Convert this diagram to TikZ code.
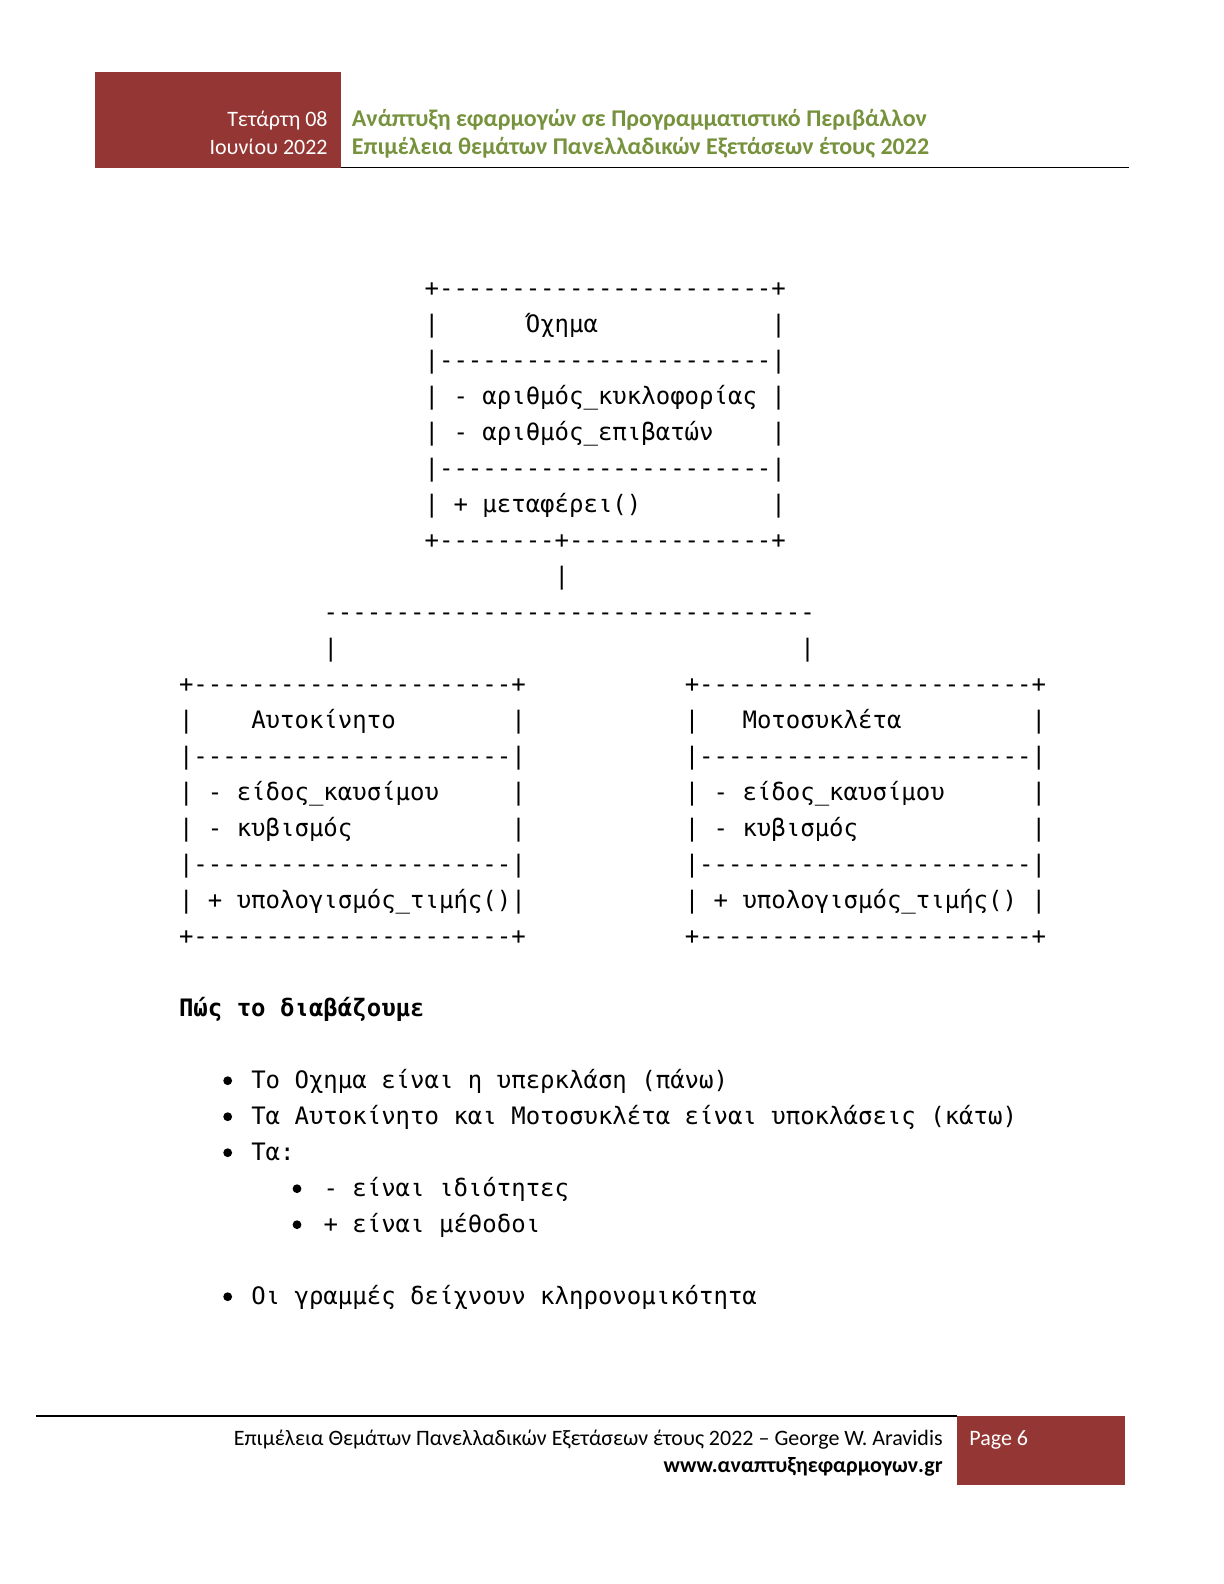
\documentclass[tikz,border=0pt]{standalone}
\usepackage{fontspec}
\newfontfamily\monofnt[Ligatures=TeXOff]{DejaVu Sans Mono}
\newfontfamily\carl{Carlito}
\definecolor{hdrred}{HTML}{943634}
\definecolor{hdrgreen}{HTML}{76923C}
\tikzset{
  asc/.style={anchor=base west, inner sep=0pt, font=\monofnt\fontsize{12bp}{14bp}\selectfont},
  ascb/.style={asc, font=\monofnt\bfseries\fontsize{12bp}{14bp}\selectfont},
  bul/.style={circle, fill=black, inner sep=0pt, minimum size=4.4bp},
  hdrw/.style={anchor=base east, inner sep=0pt, text=white, font=\carl\fontsize{11bp}{13bp}\selectfont},
  hdrg/.style={anchor=base west, inner sep=0pt, text=hdrgreen, font=\carl\bfseries\fontsize{12bp}{14bp}\selectfont},
  foot/.style={anchor=base east, inner sep=0pt, font=\carl\fontsize{11bp}{13bp}\selectfont},
  rule/.style={line width=0.75bp}
}
\newcommand\asc[4]{\node[asc] (#1) at ({178.6+14.45*#2},{296+36*#3}) {#4};}
\begin{document}
\begin{tikzpicture}[x=0.5bp,y=-0.5bp]
\useasboundingbox (0,0) rectangle (1224,1584);
% header
\fill[hdrred] (95.3,72) rectangle (340.7,167.7);
\draw[rule] (340.7,167.5) -- (1129,167.5);
\node[hdrw] (date1) at (328,126.7) {Τετάρτη 08};
\node[hdrw] (date2) at (328,154) {Ιουνίου 2022};
\node[hdrg] (title1) at (351.5,126) {Ανάπτυξη εφαρμογών σε Προγραμματιστικό Περιβάλλον};
\node[hdrg] (title2) at (351.5,154) {Επιμέλεια θεμάτων Πανελλαδικών Εξετάσεων έτους 2022};
% footer
\draw[rule] (36,1416) -- (956.7,1416);
\fill[hdrred] (956.7,1415.7) rectangle (1125,1485);
\node[foot] (foot1) at (943,1445) {Επιμέλεια Θεμάτων Πανελλαδικών Εξετάσεων έτους 2022 – George W. Aravidis};
\node[foot, font=\carl\bfseries\fontsize{11bp}{13bp}\selectfont] (foot2) at (943,1472) {www.αναπτυξηεφαρμογων.gr};
\node[anchor=base west, inner sep=0pt, text=white, font=\carl\fontsize{11bp}{13bp}\selectfont] (page) at (969,1445) {Page 6};
% Οχημα box
\asc{r0}{17}{0}{+-----------------------+}
\asc{r1a}{17}{1}{|}
\asc{r1b}{24}{1}{Όχημα}
\asc{r1c}{41}{1}{|}
\asc{r2}{17}{2}{|-----------------------|}
\asc{r3}{17}{3}{| - αριθμός\_κυκλοφορίας |}
\asc{r4a}{17}{4}{| - αριθμός\_επιβατών}
\asc{r4b}{41}{4}{|}
\asc{r5}{17}{5}{|-----------------------|}
\asc{r6a}{17}{6}{| + μεταφέρει()}
\asc{r6b}{41}{6}{|}
\asc{r7}{17}{7}{+--------+--------------+}
% connectors
\asc{r8}{26}{8}{|}
\asc{r9}{10}{9}{----------------------------------}
\asc{r10a}{10}{10}{|}
\asc{r10b}{43}{10}{|}
% Αυτοκίνητο box
\asc{l11}{0}{11}{+----------------------+}
\asc{l12a}{0}{12}{|}
\asc{l12b}{5}{12}{Αυτοκίνητο}
\asc{l12c}{23}{12}{|}
\asc{l13}{0}{13}{|----------------------|}
\asc{l14a}{0}{14}{| - είδος\_καυσίμου}
\asc{l14b}{23}{14}{|}
\asc{l15a}{0}{15}{| - κυβισμός}
\asc{l15b}{23}{15}{|}
\asc{l16}{0}{16}{|----------------------|}
\asc{l17}{0}{17}{| + υπολογισμός\_τιμής()|}
\asc{l18}{0}{18}{+----------------------+}
% Μοτοσυκλέτα box
\asc{m11}{35}{11}{+-----------------------+}
\asc{m12a}{35}{12}{|}
\asc{m12b}{39}{12}{Μοτοσυκλέτα}
\asc{m12c}{59}{12}{|}
\asc{m13}{35}{13}{|-----------------------|}
\asc{m14a}{35}{14}{| - είδος\_καυσίμου}
\asc{m14b}{59}{14}{|}
\asc{m15a}{35}{15}{| - κυβισμός}
\asc{m15b}{59}{15}{|}
\asc{m16}{35}{16}{|-----------------------|}
\asc{m17}{35}{17}{| + υπολογισμός\_τιμής() |}
\asc{m18}{35}{18}{+-----------------------+}
% explanation
\node[ascb] (head) at ({178.6},{296+36*20}) {Πώς το διαβάζουμε};
\node[bul] (b1) at (227.7,1080.7) {};
\asc{t22}{5}{22}{Το Οχημα είναι η υπερκλάση (πάνω)}
\node[bul] (b2) at (227.7,1116.7) {};
\asc{t23}{5}{23}{Τα Αυτοκίνητο και Μοτοσυκλέτα είναι υποκλάσεις (κάτω)}
\node[bul] (b3) at (227.7,1152.7) {};
\asc{t24}{5}{24}{Τα:}
\node[bul] (b4) at (297,1188.7) {};
\asc{t25}{10}{25}{- είναι ιδιότητες}
\node[bul] (b5) at (297,1224.7) {};
\asc{t26}{10}{26}{+ είναι μέθοδοι}
\node[bul] (b6) at (227.7,1296.7) {};
\asc{t28}{5}{28}{Οι γραμμές δείχνουν κληρονομικότητα}
\end{tikzpicture}
\end{document}
